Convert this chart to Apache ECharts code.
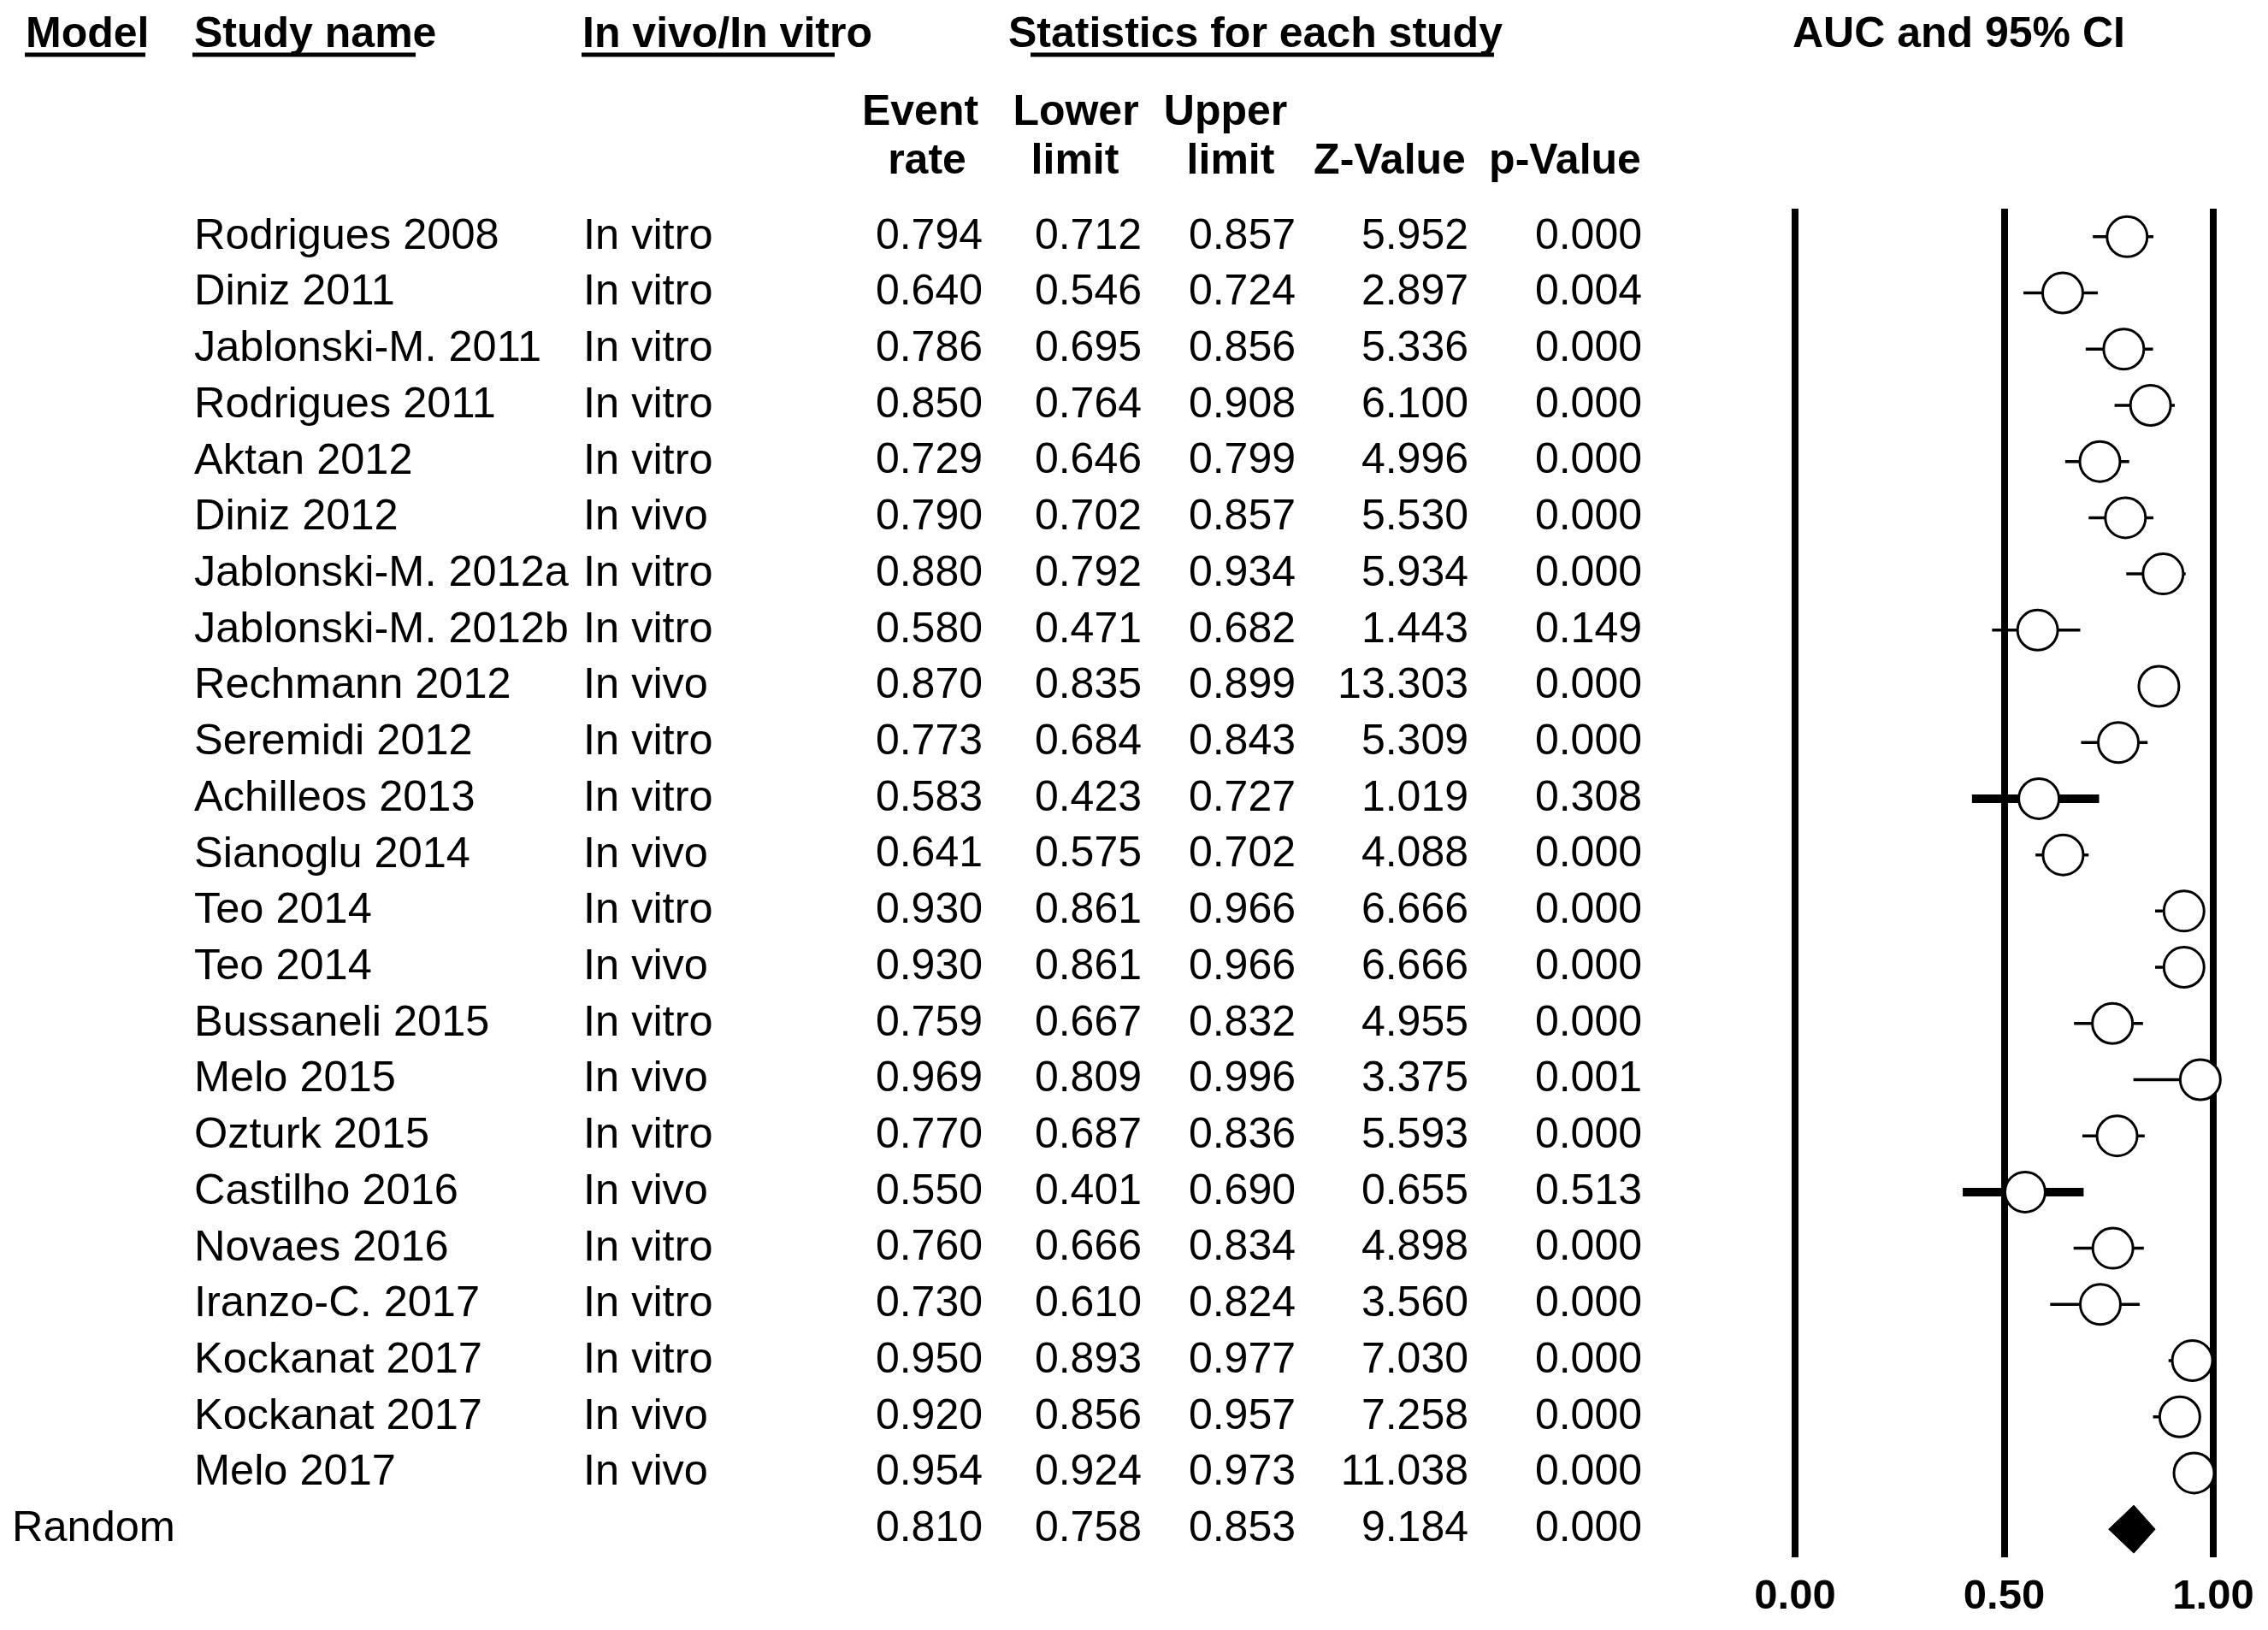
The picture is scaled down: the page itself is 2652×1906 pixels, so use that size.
<!DOCTYPE html>
<html>
<head>
<meta charset="utf-8">
<script src="https://cdn.jsdelivr.net/npm/echarts@6/dist/echarts.min.js"></script>
<style>
html,body{margin:0;padding:0;background:#fff;}
#chart{width:2652px;height:1906px;}
</style>
</head>
<body>
<div id="chart"></div>
<script>
// ---------- data ----------
const studies = ["Rodrigues 2008","Diniz 2011","Jablonski-M. 2011","Rodrigues 2011","Aktan 2012","Diniz 2012","Jablonski-M. 2012a","Jablonski-M. 2012b","Rechmann 2012","Seremidi 2012","Achilleos 2013","Sianoglu 2014","Teo 2014","Teo 2014","Bussaneli 2015","Melo 2015","Ozturk 2015","Castilho 2016","Novaes 2016","Iranzo-C. 2017","Kockanat 2017","Kockanat 2017","Melo 2017"];
const settings = ["In vitro","In vitro","In vitro","In vitro","In vitro","In vivo","In vitro","In vitro","In vivo","In vitro","In vitro","In vivo","In vitro","In vivo","In vitro","In vivo","In vitro","In vivo","In vitro","In vitro","In vitro","In vivo","In vivo"];
const eventRate = [0.794,0.640,0.786,0.850,0.729,0.790,0.880,0.580,0.870,0.773,0.583,0.641,0.930,0.930,0.759,0.969,0.770,0.550,0.760,0.730,0.950,0.920,0.954];
const lowerLimit = [0.712,0.546,0.695,0.764,0.646,0.702,0.792,0.471,0.835,0.684,0.423,0.575,0.861,0.861,0.667,0.809,0.687,0.401,0.666,0.610,0.893,0.856,0.924];
const upperLimit = [0.857,0.724,0.856,0.908,0.799,0.857,0.934,0.682,0.899,0.843,0.727,0.702,0.966,0.966,0.832,0.996,0.836,0.690,0.834,0.824,0.977,0.957,0.973];
const zValue = [5.952,2.897,5.336,6.100,4.996,5.530,5.934,1.443,13.303,5.309,1.019,4.088,6.666,6.666,4.955,3.375,5.593,0.655,4.898,3.560,7.030,7.258,11.038];
const pValue = [0.000,0.004,0.000,0.000,0.000,0.000,0.000,0.149,0.000,0.000,0.308,0.000,0.000,0.000,0.000,0.001,0.000,0.513,0.000,0.000,0.000,0.000,0.000];
const randomLabel = "Random";
const randomEffect = [0.810, 0.758, 0.853, 9.184, 0.000]; // rate, lower, upper, Z, p
const xTicks = [0, 0.5, 1];

// ---------- derived ----------
const nRows = studies.length + 1;
const rowIdx = Array.from({length: nRows}, (_, i) => String(i));
const colRate = eventRate.concat([randomEffect[0]]);
const colLow = lowerLimit.concat([randomEffect[1]]);
const colUp = upperLimit.concat([randomEffect[2]]);
const colZ = zValue.concat([randomEffect[3]]);
const colP = pValue.concat([randomEffect[4]]);
const colModel = studies.map(() => "").concat([randomLabel]);
const colStudy = studies.concat([""]);
const colSet = settings.concat([""]);

const FONT = "'Liberation Sans', Arial, sans-serif";
const FS_TEXT = 50.5;
const FS_NUM = 50;

const GRID_LEFT = 2099;

function tableAxis(values, edge, align, fs, fmt) {
  return {
    type: 'category', data: rowIdx, inverse: true, gridIndex: 0,
    position: 'left', offset: GRID_LEFT - edge,
    axisLine: {show: false}, axisTick: {show: false}, splitLine: {show: false},
    axisLabel: {
      show: true, interval: 0, margin: 0, align: align, verticalAlign: 'middle',
      padding: [12, 0, 0, 0],
      fontFamily: FONT, fontSize: fs, color: '#000',
      formatter: (v, i) => { const x = values[i]; return (x === "" || x === undefined) ? "" : (fmt ? fmt(x) : x); }
    }
  };
}
const f3 = v => Number(v).toFixed(3);

const whiskerData = lowerLimit.map((lo, i) => [lo, upperLimit[i], i]);
const pointData = eventRate.map((r, i) => [r, i]);
const diamondData = [[randomEffect[1], randomEffect[0], randomEffect[2], studies.length]];

const chart = echarts.init(document.getElementById('chart'), null, {renderer: 'canvas'});

const HB = {fontFamily: FONT, fontSize: 50, fontWeight: 'bold', fill: '#000'};
function htext(text, x, y, align) {
  return {type: 'text', x: x, y: y, silent: true,
    style: Object.assign({text: text, align: align, textAlign: align, verticalAlign: 'middle', textVerticalAlign: 'middle'}, HB)};
}
function uline(x1, x2, y) {
  return {type: 'line', silent: true, shape: {x1: x1, y1: y, x2: x2, y2: y}, style: {stroke: '#000', lineWidth: 5}};
}

const option = {
  backgroundColor: '#fff',
  animation: false,
  grid: {left: GRID_LEFT, width: 489, top: 244, bottom: 85, containLabel: false, outerBoundsMode: 'none'},
  xAxis: {
    type: 'value', min: xTicks[0], max: xTicks[xTicks.length - 1], interval: xTicks[1] - xTicks[0],
    axisLine: {show: false}, axisTick: {show: false},
    splitLine: {show: true, lineStyle: {color: '#000', width: 8}},
    axisLabel: {show: true, margin: 22, fontFamily: FONT, fontSize: 49, fontWeight: 'bold', color: '#000',
      formatter: v => Number(v).toFixed(2)}
  },
  yAxis: [
    {type: 'category', data: rowIdx, inverse: true, show: false},
    tableAxis(colModel, 14, 'left', FS_TEXT),
    tableAxis(colStudy, 227, 'left', FS_TEXT),
    tableAxis(colSet, 682, 'left', FS_TEXT),
    tableAxis(colRate, 1149, 'right', FS_NUM, f3),
    tableAxis(colLow, 1335, 'right', FS_NUM, f3),
    tableAxis(colUp, 1515, 'right', FS_NUM, f3),
    tableAxis(colZ, 1717, 'right', FS_NUM, f3),
    tableAxis(colP, 1920, 'right', FS_NUM, f3)
  ],
  graphic: [
    htext('Model', 30, 41, 'left'),
    htext('Study name', 227, 41, 'left'),
    htext('In vivo/In vitro', 681, 41, 'left'),
    htext('Statistics for each study', 1179, 41, 'left'),
    htext('AUC and 95% CI', 2096, 41, 'left'),
    uline(29, 170, 64),
    uline(225, 486, 64),
    uline(680, 976, 64),
    uline(1205, 1747, 64),
    htext('Event', 1076, 132, 'center'),
    htext('rate', 1084, 189, 'center'),
    htext('Lower', 1258, 132, 'center'),
    htext('limit', 1257, 189, 'center'),
    htext('Upper', 1433, 132, 'center'),
    htext('limit', 1439, 189, 'center'),
    htext('Z-Value', 1625, 189, 'center'),
    htext('p-Value', 1830, 189, 'center')
  ],
  series: [
    {
      type: 'custom', name: 'CI', z: 2, clip: false,
      data: whiskerData,
      encode: {x: [0, 1], y: 2},
      renderItem: function (params, api) {
        const lo = api.value(0), hi = api.value(1), row = api.value(2);
        const p1 = api.coord([lo, row]);
        const p2 = api.coord([hi, row]);
        const w = (hi - lo) > 0.25 ? 10 : 3.5;
        return {type: 'line', shape: {x1: p1[0], y1: p1[1], x2: p2[0], y2: p2[1]},
          style: {stroke: '#000', lineWidth: w}};
      }
    },
    {
      type: 'scatter', name: 'Event rate', z: 3, clip: false,
      data: pointData,
      symbol: 'circle', symbolSize: 47,
      itemStyle: {color: '#fff', borderColor: '#000', borderWidth: 3, opacity: 1}
    },
    {
      type: 'custom', name: 'Random', z: 3, clip: false,
      data: diamondData,
      encode: {x: [0, 1, 2], y: 3},
      renderItem: function (params, api) {
        const row = api.value(3);
        const l = api.coord([api.value(0), row]);
        const m = api.coord([api.value(1), row]);
        const r = api.coord([api.value(2), row]);
        const h = 28;
        return {type: 'polygon',
          shape: {points: [[l[0] - 4, l[1]], [m[0], m[1] - h], [r[0] + 4, r[1]], [m[0], m[1] + h]]},
          style: {fill: '#000', stroke: '#000', lineWidth: 1}};
      }
    }
  ]
};
chart.setOption(option);
</script>
</body>
</html>
